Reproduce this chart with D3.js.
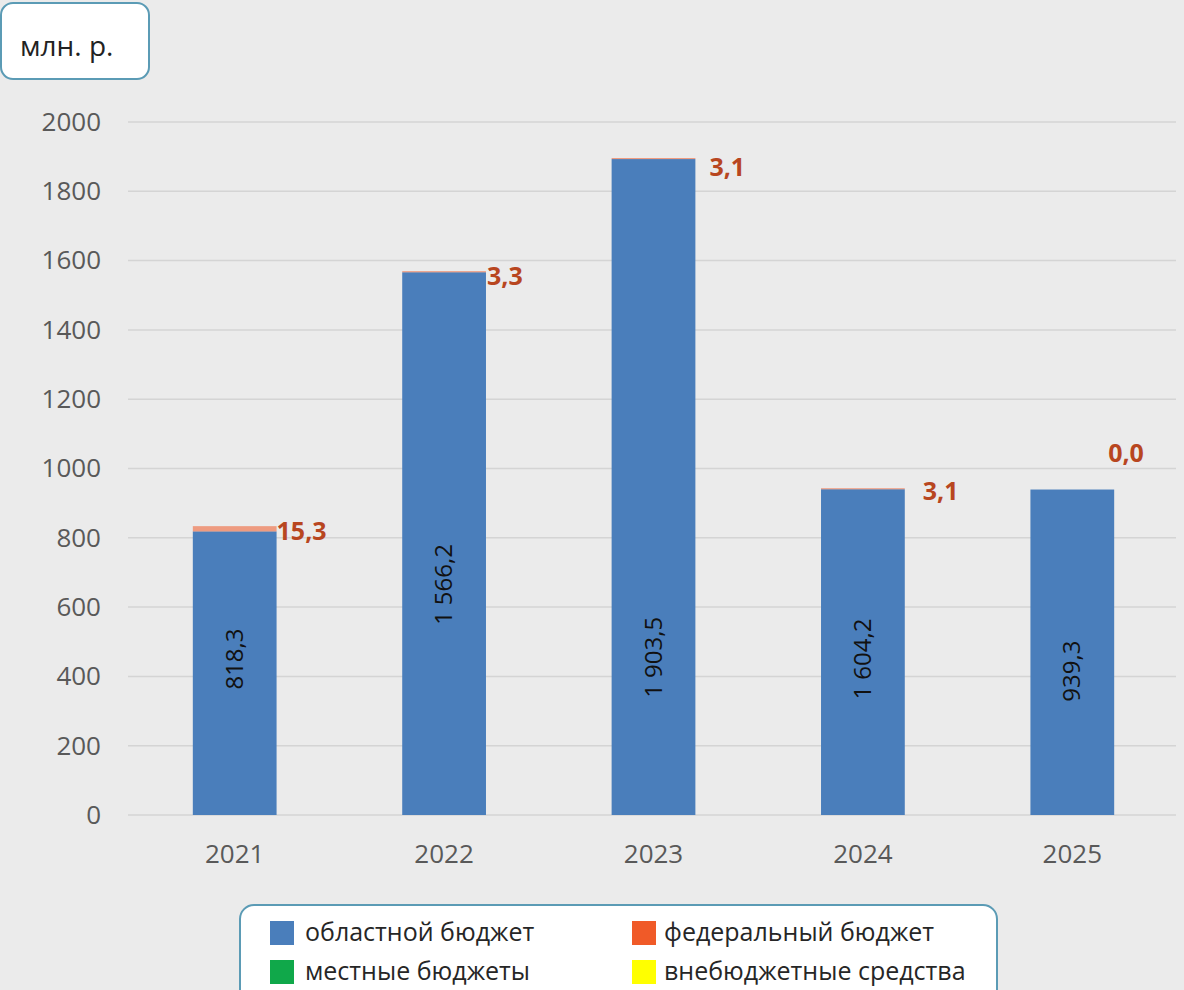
<!DOCTYPE html>
<html>
<head>
<meta charset="utf-8">
<script src="https://cdn.jsdelivr.net/npm/d3@7"></script>
<style>
  body { margin: 0; background: #ebebeb; }
  svg { display: block; font-family: "Open Sans", "DejaVu Sans", sans-serif; }
</style>
</head>
<body>
<svg id="chart" width="1184" height="990"></svg>
<script>
"use strict";

// data
var years = ["2021", "2022", "2023", "2024", "2025"];
// heights of the blue bars as drawn (the 2024 bar is drawn far shorter than its label)
var regional = [818.3, 1566.2, 1893, 940, 939.3];
var regionalLabels = ["818,3", "1 566,2", "1 903,5", "1 604,2", "939,3"];
var federal = [15.3, 3.3, 3.1, 3.1, 0.0];
var federalLabels = ["15,3", "3,3", "3,1", "3,1", "0,0"];
var yTicks = [0, 200, 400, 600, 800, 1000, 1200, 1400, 1600, 1800, 2000];
var legendNames = ["областной бюджет", "федеральный бюджет", "местные бюджеты", "внебюджетные средства"];
var legendColors = ["#4a7ebb", "#f05a28", "#10a84a", "#ffff00"];

// layout tweaks for the labels (pixels / value units)
var innerLabelAt = [450, 665, 455, 450, 415];
var fedLabelDx = [0, 1, 14, 18, -6];
var fedLabelDy = [5, 5, 9, 3, -37];

const svg = d3.select("#chart");

const x = d3.scaleBand()
  .domain(years)
  .range([130, 1177])
  .paddingInner(0.6)
  .paddingOuter(0.3);

const y = d3.scaleLinear()
  .domain([0, 2000])
  .range([815, 122]);

// unit box
svg.append("rect")
  .attr("x", 1).attr("y", 3)
  .attr("width", 148).attr("height", 76)
  .attr("rx", 12)
  .attr("fill", "#ffffff")
  .attr("stroke", "#5b9bb5")
  .attr("stroke-width", 2);
svg.append("text")
  .attr("x", 20).attr("y", 56)
  .attr("font-size", 28)
  .attr("fill", "#222")
  .text("млн. р.");

// grid lines
svg.append("g")
  .selectAll("line")
  .data(yTicks)
  .join("line")
  .attr("x1", 128).attr("x2", 1176)
  .attr("y1", d => y(d)).attr("y2", d => y(d))
  .attr("stroke", "#d4d4d4")
  .attr("stroke-width", 1.5);

// y axis
const yAxis = svg.append("g")
  .attr("transform", "translate(101,0)")
  .call(d3.axisLeft(y).tickValues(yTicks).tickFormat(d3.format("d")).tickSize(0).tickPadding(0));
yAxis.select(".domain").remove();
yAxis.selectAll("text")
  .attr("font-size", 26)
  .attr("font-family", "Open Sans, sans-serif")
  .attr("fill", "#595959");

// x axis
const xAxis = svg.append("g")
  .attr("transform", "translate(0,815)")
  .call(d3.axisBottom(x).tickSize(0).tickPadding(30));
xAxis.select(".domain").remove();
xAxis.selectAll("text")
  .attr("font-size", 26)
  .attr("font-family", "Open Sans, sans-serif")
  .attr("fill", "#595959");

// blue bars
svg.append("g")
  .selectAll("rect")
  .data(years)
  .join("rect")
  .attr("x", d => x(d))
  .attr("width", x.bandwidth())
  .attr("y", (d, i) => y(regional[i]))
  .attr("height", (d, i) => y(0) - y(regional[i]))
  .attr("fill", legendColors[0]);

// federal segments on top
svg.append("g")
  .selectAll("rect")
  .data(years)
  .join("rect")
  .attr("x", d => x(d))
  .attr("width", x.bandwidth())
  .attr("y", (d, i) => y(regional[i] + federal[i]))
  .attr("height", (d, i) => y(regional[i]) - y(regional[i] + federal[i]))
  .attr("fill", legendColors[1])
  .attr("fill-opacity", 0.55);

// rotated labels inside the bars
svg.append("g")
  .selectAll("text")
  .data(years)
  .join("text")
  .attr("transform", (d, i) =>
    "translate(" + (x(d) + x.bandwidth() / 2 + 8) + "," + y(innerLabelAt[i]) + ") rotate(-90)")
  .attr("text-anchor", "middle")
  .attr("font-size", 24)
  .attr("fill", "#111")
  .text((d, i) => regionalLabels[i]);

// federal labels
svg.append("g")
  .selectAll("text")
  .data(years)
  .join("text")
  .attr("x", (d, i) => x(d) + x.bandwidth() + fedLabelDx[i])
  .attr("y", (d, i) => y(regional[i] + federal[i]) + fedLabelDy[i] + 9)
  .attr("font-size", 25)
  .attr("font-weight", "bold")
  .attr("fill", "#b8461f")
  .text((d, i) => federalLabels[i]);

// legend
const legend = svg.append("g");
legend.append("rect")
  .attr("x", 240).attr("y", 905)
  .attr("width", 757).attr("height", 110)
  .attr("rx", 14)
  .attr("fill", "#ffffff")
  .attr("stroke", "#5b9bb5")
  .attr("stroke-width", 2);

const legendPos = [[270, 921], [632, 921], [270, 960], [632, 960]];
const items = legend.selectAll("g.item")
  .data(legendNames)
  .join("g")
  .attr("class", "item")
  .attr("transform", (d, i) => "translate(" + legendPos[i][0] + "," + legendPos[i][1] + ")");
items.append("rect")
  .attr("width", 24).attr("height", 24)
  .attr("fill", (d, i) => legendColors[i]);
items.append("text")
  .attr("x", (d, i) => i % 2 ? 32 : 35)
  .attr("y", 20)
  .attr("font-size", 25)
  .attr("fill", "#262626")
  .text(d => d);
</script>
</body>
</html>
